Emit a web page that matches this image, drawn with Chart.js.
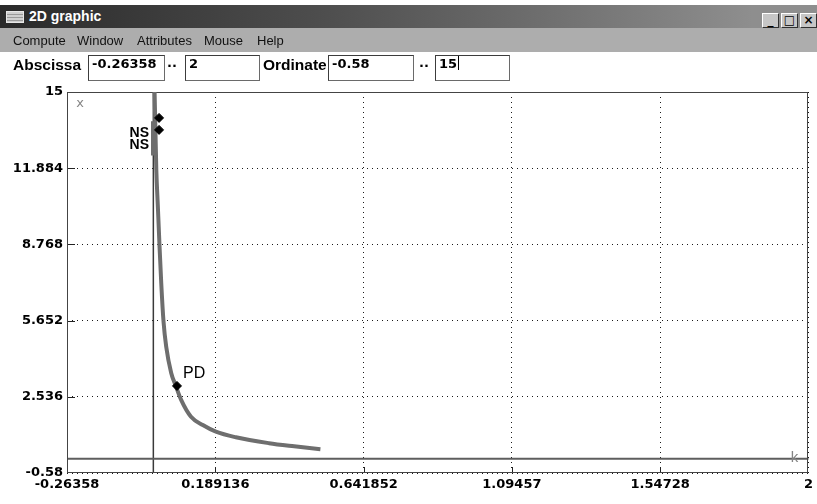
<!DOCTYPE html>
<html>
<head>
<meta charset="utf-8">
<title>2D graphic</title>
<script src="https://cdn.jsdelivr.net/npm/chart.js@4/dist/chart.umd.min.js"></script>
<style>
  html, body { margin: 0; padding: 0; background: #fff; }
  #win { position: relative; width: 817px; height: 504px; overflow: hidden; background: #fff;
         font-family: "Liberation Sans", Arial, sans-serif; }
  #plot { position: absolute; left: 0; top: 0; }
  #titlebar { position: absolute; left: 0; top: 5px; width: 817px; height: 23px;
              background: linear-gradient(to right, #2a2a2a 0%, #4e4e4e 40%, #8e8e8e 92%, #8e8e8e 100%); }
  #titlebar .icon { position: absolute; left: 6px; top: 6px; width: 16px; height: 10px;
                    background: repeating-linear-gradient(to bottom, #d0d0d0 0 2px, #9a9a9a 2px 3px);
                    border: 1px solid #e8e8e8; }
  #titlebar .caption { position: absolute; left: 29px; top: 3px; color: #fff; font-weight: bold;
                       font-size: 14px; line-height: 17px; }
  .wbtn { position: absolute; top: 8px; width: 15px; height: 13px; background: #c6c6c6;
          border-top: 1px solid #fff; border-left: 1px solid #fff;
          border-right: 1px solid #303030; border-bottom: 1px solid #303030;
          font: bold 12px "DejaVu Sans", sans-serif; color: #000; text-align: center; line-height: 13px; }
  #menubar { position: absolute; left: 0; top: 28px; width: 817px; height: 24px; background: #adadad;
             font-size: 13px; line-height: 25px; color: #111; }
  #menubar span { position: absolute; top: 0; }
  .lbl { position: absolute; top: 55px; line-height: 19px; font-weight: bold; font-size: 15.5px; color: #000; }
  .field { position: absolute; top: 55px; height: 26px; box-sizing: border-box; background: #fff;
           border-top: 1px solid #3c3c3c; border-left: 1px solid #3c3c3c;
           border-right: 1px solid #6a6a6a; border-bottom: 1px solid #6a6a6a;
           font: bold 13px "DejaVu Sans", sans-serif; line-height: 16px; padding: 0 0 0 3px; color: #000; }
  .dots { position: absolute; top: 55px; line-height: 19px; font: bold 13px "DejaVu Sans", sans-serif; }
  .caret { display: inline-block; width: 1px; height: 14px; background: #000; vertical-align: -2px; margin-left: 1px; }
</style>
</head>
<body>
<div id="win">
  <canvas id="plot" width="817" height="504"></canvas>

  <div id="titlebar">
    <div class="icon"></div>
    <div class="caption">2D graphic</div>
    <div class="wbtn" style="left:762px;">_</div>
    <div class="wbtn" style="left:781px;">&#9633;</div>
    <div class="wbtn" style="left:800px;">&#215;</div>
  </div>

  <div id="menubar">
    <span style="left:13px;">Compute</span>
    <span style="left:77px;">Window</span>
    <span style="left:137px;">Attributes</span>
    <span style="left:204px;">Mouse</span>
    <span style="left:257px;">Help</span>
  </div>

  <div class="lbl" style="left:13px;">Abscissa</div>
  <div class="field" style="left:88px; width:77px;">-0.26358</div>
  <div class="dots" style="left:167px;">..</div>
  <div class="field" style="left:185px; width:75px;">2</div>
  <div class="lbl" style="left:263px;">Ordinate</div>
  <div class="field" style="left:328px; width:86px;">-0.58</div>
  <div class="dots" style="left:419px;">..</div>
  <div class="field" style="left:435px; width:75px;">15<span class="caret"></span></div>
</div>

<script>
// Window of the plot: abscissa k, ordinate x
const xTicks = [-0.26358, 0.189136, 0.641852, 1.09457, 1.54728, 2];
const yTicks = [-0.58, 2.536, 5.652, 8.768, 11.884, 15];

// Main solution branch x(k)
const curveK = [0.0025, 0.0038, 0.0090, 0.0138, 0.0190, 0.0241, 0.0311, 0.0393, 0.0545,
                0.0676, 0.0849, 0.115, 0.151, 0.191, 0.252, 0.353, 0.430, 0.510];
const curveX = [16.0, 15.0, 11.85, 10.31, 8.67, 7.19, 5.61, 4.58, 3.51,
                3.02, 2.41, 1.72, 1.38, 1.11, 0.88, 0.64, 0.51, 0.39];

// Short second branch next to the ordinate axis
const branchK = [-0.001, -0.001];
const branchX = [13.8, 12.4];

// Special points found on the branch
const pointNames = ['NS', 'NS', 'PD'];
const pointK = [0.0175, 0.0175, 0.0722];
const pointX = [13.94, 13.45, 2.98];

const toXY = (ks, xs) => ks.map((k, i) => ({ x: k, y: xs[i] }));

// Frame, axes through the origin and short tick marks
const framePlugin = {
  id: 'frame',
  beforeDatasetsDraw(chart) {
    const { ctx, chartArea: a, scales: { x, y } } = chart;
    ctx.save();
    // tick marks inside the frame
    ctx.strokeStyle = '#222';
    ctx.lineWidth = 1;
    ctx.beginPath();
    yTicks.slice(1, -1).forEach(v => {
      const py = Math.round(y.getPixelForValue(v)) + 0.5;
      ctx.moveTo(a.left, py); ctx.lineTo(a.left + 8, py);
    });
    xTicks.slice(1, -1).forEach(v => {
      const px = Math.round(x.getPixelForValue(v)) + 0.5;
      ctx.moveTo(px, a.bottom); ctx.lineTo(px, a.bottom - 6);
    });
    ctx.stroke();
    // axes through zero
    const x0 = x.getPixelForValue(0);
    const y0 = y.getPixelForValue(0);
    ctx.strokeStyle = '#3a3a3a';
    ctx.lineWidth = 1.5;
    ctx.beginPath(); ctx.moveTo(x0, a.top); ctx.lineTo(x0, a.bottom); ctx.stroke();
    ctx.strokeStyle = '#5e5e5e';
    ctx.lineWidth = 2;
    ctx.beginPath(); ctx.moveTo(a.left, y0); ctx.lineTo(a.right, y0); ctx.stroke();
    // frame
    ctx.strokeStyle = '#444';
    ctx.lineWidth = 1;
    ctx.strokeRect(Math.round(a.left) + 0.5, Math.round(a.top) + 0.5,
                   Math.round(a.right - a.left) - 1, Math.round(a.bottom - a.top) - 1);
    ctx.restore();
  },
  afterDatasetsDraw(chart) {
    const { ctx, chartArea: a, scales: { x, y } } = chart;
    ctx.save();
    ctx.textBaseline = 'middle';
    // names of the special points
    const meta = chart.getDatasetMeta(2);
    meta.data.forEach((el, i) => {
      const name = pointNames[i];
      if (name === 'PD') {
        ctx.font = '16px "Liberation Sans", Arial, sans-serif';
        ctx.textAlign = 'left';
        ctx.fillStyle = '#000';
        ctx.fillText(name, el.x + 6, el.y - 12);
      } else {
        ctx.font = 'bold 14px "Liberation Sans", Arial, sans-serif';
        ctx.textAlign = 'right';
        ctx.fillStyle = '#000';
        ctx.fillText(name, el.x - 10, el.y + 15);
      }
    });
    // variable names of the two axes
    ctx.fillStyle = '#858585';
    ctx.textAlign = 'center';
    ctx.font = '13px "DejaVu Sans", sans-serif';
    ctx.fillText('x', a.left + 13, a.top + 12);
    ctx.font = '15px "Liberation Sans", Arial, sans-serif';
    ctx.fillText('k', a.right - 14, y.getPixelForValue(0) - 1);
    ctx.restore();
  }
};

new Chart(document.getElementById('plot'), {
  type: 'scatter',
  data: {
    datasets: [
      {
        data: toXY(curveK, curveX),
        showLine: true,
        borderColor: '#6e6e6e',
        borderWidth: 4,
        pointRadius: 0,
        cubicInterpolationMode: 'monotone',
        order: 3
      },
      {
        data: toXY(branchK, branchX),
        showLine: true,
        borderColor: '#6e6e6e',
        borderWidth: 4,
        pointRadius: 0,
        order: 2
      },
      {
        data: toXY(pointK, pointX),
        showLine: false,
        pointStyle: 'rectRot',
        pointRadius: 4.5,
        backgroundColor: '#000',
        borderColor: '#000',
        borderWidth: 1,
        order: 0
      }
    ]
  },
  options: {
    responsive: false,
    animation: false,
    devicePixelRatio: 1,
    layout: { padding: { top: 92, right: 5, left: 0, bottom: 0 } },
    plugins: { legend: { display: false }, tooltip: { enabled: false } },
    scales: {
      x: {
        type: 'linear',
        min: xTicks[0],
        max: xTicks[xTicks.length - 1],
        afterBuildTicks: s => { s.ticks = xTicks.map(v => ({ value: v })); },
        afterFit: s => { s.height = 31; },
        grid: { color: '#1a1a1a', lineWidth: 1, drawTicks: false },
        border: { display: false, dash: [1, 4] },
        ticks: {
          autoSkip: false, maxRotation: 0, padding: 4, color: '#000',
          font: { family: 'DejaVu Sans', size: 13, weight: 'bold' },
          callback: v => String(v)
        }
      },
      y: {
        type: 'linear',
        min: yTicks[0],
        max: yTicks[yTicks.length - 1],
        afterBuildTicks: s => { s.ticks = yTicks.map(v => ({ value: v })); },
        afterFit: s => { s.width = 67; },
        grid: { color: '#1a1a1a', lineWidth: 1, drawTicks: false },
        border: { display: false, dash: [1, 4] },
        ticks: {
          autoSkip: false, padding: 4, color: '#000',
          font: { family: 'DejaVu Sans', size: 13, weight: 'bold' },
          callback: v => String(v)
        }
      }
    }
  },
  plugins: [framePlugin]
});
</script>
</body>
</html>
